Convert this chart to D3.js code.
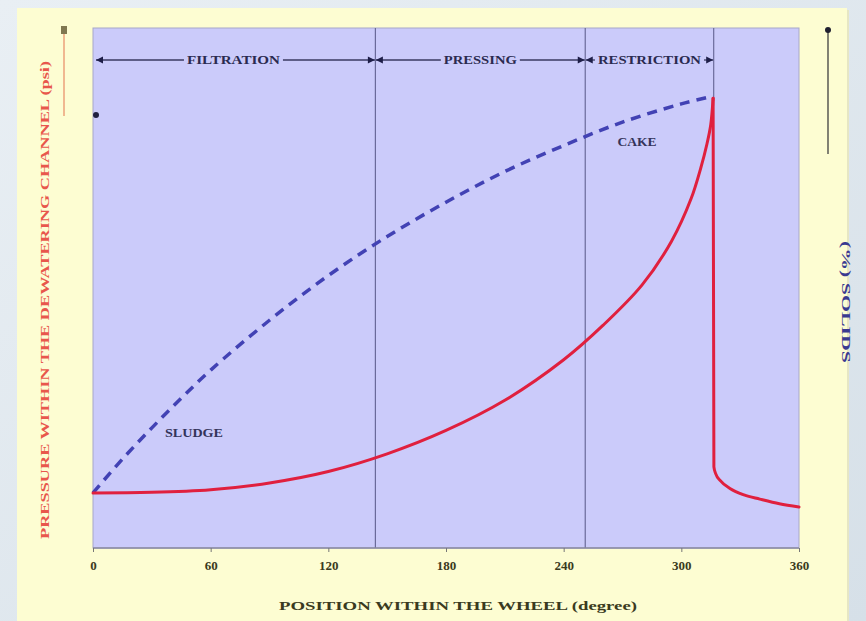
<!DOCTYPE html>
<html><head><meta charset="utf-8">
<script src="https://cdn.jsdelivr.net/npm/d3@7"></script>
<style>html,body{margin:0;padding:0;overflow:hidden;background:#e2e9ef}</style>
</head><body>
<svg id="c" width="866" height="621"></svg>
<script>
// ---- data ----
const xTicks = [0, 60, 120, 180, 240, 300, 360];
const pressureDeg = [0, 30, 60, 90, 120, 150, 180, 210, 240, 260, 280, 295, 305, 310, 313, 315, 316.2, 316.6, 317.5, 320, 325, 332, 340, 350, 360];
const pressureVal = [10.6, 10.7, 11.2, 12.5, 14.7, 18.1, 22.6, 28.4, 36.2, 42.8, 50.6, 59.0, 67.2, 73.2, 77.6, 81.4, 86.5, 15.6, 14.3, 12.9, 11.4, 10.2, 9.4, 8.5, 7.9];
const solidsDeg = [0, 15, 30, 45, 60, 90, 120, 150, 180, 210, 240, 270, 300, 316.2];
const solidsVal = [10.6, 17.1, 23.1, 28.8, 34.2, 43.8, 52.4, 59.9, 66.5, 72.4, 77.4, 81.9, 85.4, 86.9];
const phaseNames = ["FILTRATION", "PRESSING", "RESTRICTION"];
const phaseBounds = [0, 144, 251, 316.5];
const curveLabels = ["SLUDGE", "CAKE"];
const xTitle = "POSITION WITHIN THE WHEEL (degree)";
const yLeftTitle = "PRESSURE WITHIN THE DEWATERING CHANNEL (psi)";
const yRightTitle = "(%) SOLIDS";

// ---- layout ----
const svg = d3.select("#c");
const L = 93, R = 799, T = 28, B = 548;
const x = d3.scaleLinear().domain([0, 360]).range([L, R]);
const yP = d3.scaleLinear().domain([0, 100]).range([B, T]);
const yS = d3.scaleLinear().domain([0, 100]).range([B, T]);
const ser = "'Liberation Serif','DejaVu Serif',serif";

const defs = svg.append("defs");
const g1 = defs.append("linearGradient").attr("id", "bg").attr("x1", 0).attr("y1", 0).attr("x2", 1).attr("y2", 1);
g1.append("stop").attr("offset", "0").attr("stop-color", "#e9eff4");
g1.append("stop").attr("offset", "1").attr("stop-color", "#d6e0e8");
svg.append("rect").attr("width", 866).attr("height", 621).attr("fill", "url(#bg)");
svg.append("rect").attr("x", 19).attr("y", 10).attr("width", 830).attr("height", 620).attr("fill", "#e6e6c4");
svg.append("rect").attr("x", 17).attr("y", 8).attr("width", 830).attr("height", 620).attr("fill", "#fdfdd2");
svg.append("rect").attr("x", L).attr("y", T).attr("width", R - L).attr("height", B - T)
  .attr("fill", "#cbcbfa").attr("stroke", "#a8a8c8").attr("stroke-width", 1);

function label(xp, yp, txt, len, size, color, rot) {
  const t = svg.append("text").attr("text-anchor", "middle").attr("dominant-baseline", "central")
    .attr("font-family", ser).attr("font-weight", "bold").attr("font-size", size)
    .attr("fill", color).attr("textLength", len).attr("lengthAdjust", "spacingAndGlyphs").text(txt);
  if (rot) t.attr("transform", `translate(${xp},${yp}) rotate(${rot})`);
  else t.attr("x", xp).attr("y", yp);
  return t;
}

// phase separators
svg.selectAll(".sep").data([phaseBounds[1], phaseBounds[2]]).enter().append("line")
  .attr("x1", d => x(d)).attr("x2", d => x(d)).attr("y1", T).attr("y2", B)
  .attr("stroke", "#6a6a9a").attr("stroke-width", 1.2);
svg.append("line").attr("x1", x(phaseBounds[3])).attr("x2", x(phaseBounds[3]))
  .attr("y1", T).attr("y2", yP(86)).attr("stroke", "#6a6a9a").attr("stroke-width", 1.2);

// phase arrows
const arrowY = 60;
const phaseLen = [93, 73, 103];
phaseNames.forEach((name, i) => {
  const a = x(phaseBounds[i]) + (i === 0 ? 3 : 0.5), b = x(phaseBounds[i + 1]) - 0.5;
  const mid = (a + b) / 2 + (i === 0 ? -2 : 0);
  const w = phaseLen[i];
  label(mid, arrowY, name, w, 12, "#2a2a50");
  svg.append("line").attr("x1", a).attr("x2", mid - w / 2 - 3).attr("y1", arrowY).attr("y2", arrowY).attr("stroke", "#3a3a60").attr("stroke-width", 1.3);
  svg.append("line").attr("x1", mid + w / 2 + 3).attr("x2", b).attr("y1", arrowY).attr("y2", arrowY).attr("stroke", "#3a3a60").attr("stroke-width", 1.3);
  svg.append("path").attr("d", `M${a},${arrowY}l7,-3.5v7z`).attr("fill", "#1e1e48");
  svg.append("path").attr("d", `M${b},${arrowY}l-7,-3.5v7z`).attr("fill", "#1e1e48");
});

// x axis
svg.append("line").attr("x1", L).attr("x2", R).attr("y1", B).attr("y2", B).attr("stroke", "#8888a0").attr("stroke-width", 1.5);
const ax = svg.append("g").attr("transform", `translate(0,${B})`)
  .call(d3.axisBottom(x).tickValues(xTicks).tickSize(4).tickPadding(9).tickFormat(d3.format("d")));
ax.select(".domain").remove();
ax.selectAll("line").attr("stroke", "#777");
ax.selectAll("text").attr("font-family", ser).attr("font-weight", "bold").attr("font-size", 13).attr("fill", "#3a3a20");
label(458, 605, xTitle, 358, 13, "#3a3a20");

// left axis title + indicator
label(44, 300, yLeftTitle, 478, 13, "#e8574c", -90);
svg.append("line").attr("x1", 64).attr("x2", 64).attr("y1", 34).attr("y2", 116).attr("stroke", "#f0b890").attr("stroke-width", 2);
svg.append("rect").attr("x", 61).attr("y", 26).attr("width", 6).attr("height", 8).attr("fill", "#807850");
svg.append("circle").attr("cx", 96).attr("cy", 115).attr("r", 3).attr("fill", "#202040");

// right axis title + indicator
label(846, 302, yRightTitle, 122, 13, "#3a3a90", 90);
svg.append("line").attr("x1", 828).attr("x2", 828).attr("y1", 30).attr("y2", 154).attr("stroke", "#404040").attr("stroke-width", 1.3);
svg.append("circle").attr("cx", 828).attr("cy", 30).attr("r", 3).attr("fill", "#202030");

// curves
const solids = solidsDeg.map((d, i) => [d, solidsVal[i]]);
const pressure = pressureDeg.map((d, i) => [d, pressureVal[i]]);
const peakIdx = pressureVal.indexOf(d3.max(pressureVal));
svg.append("path").datum(solids)
  .attr("d", d3.line().x(d => x(d[0])).y(d => yS(d[1])).curve(d3.curveCatmullRom.alpha(0.5)))
  .attr("fill", "none").attr("stroke", "#4242b4").attr("stroke-width", 3.5).attr("stroke-dasharray", "10,7");
svg.append("path").datum(pressure.slice(0, peakIdx + 1))
  .attr("d", d3.line().x(d => x(d[0])).y(d => yP(d[1])).curve(d3.curveCatmullRom.alpha(0.5)))
  .attr("fill", "none").attr("stroke", "#e0203e").attr("stroke-width", 3).attr("stroke-linecap", "round");
svg.append("path").datum(pressure.slice(peakIdx))
  .attr("d", d3.line().x(d => x(d[0])).y(d => yP(d[1])).curve(d3.curveMonotoneX))
  .attr("fill", "none").attr("stroke", "#e0203e").attr("stroke-width", 3).attr("stroke-linecap", "round");

// curve labels
label(194, 433, curveLabels[0], 58, 12, "#34345a");
label(637, 142, curveLabels[1], 39, 12, "#34345a");
</script>
</body></html>
